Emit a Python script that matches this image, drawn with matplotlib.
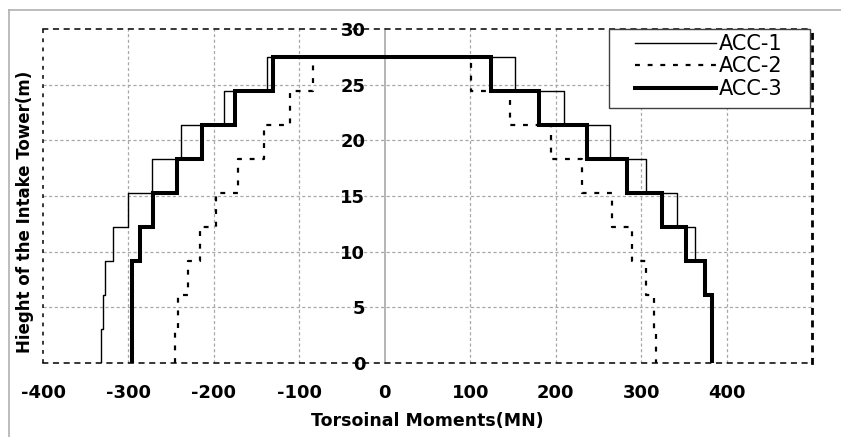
import numpy as np
import matplotlib.pyplot as plt
from matplotlib.patches import Rectangle
from matplotlib.lines import Line2D

plt.rcParams['axes.unicode_minus'] = False

# storey levels of the tower (m)
levels = [0, 3.05, 6.1, 9.15, 12.2, 15.25, 18.3, 21.35, 24.4, 27.45]

# torsional moment per storey, bottom to top (MN)
acc1_left = [-332, -330, -328, -318, -300, -273, -238, -188, -138]
acc1_right = [383, 383, 375, 363, 342, 306, 264, 210, 152]
acc2_left = [-246, -242, -230, -216, -198, -172, -141, -111, -84]
acc2_right = [318, 315, 306, 289, 266, 231, 194, 146, 101]
acc3_left = [-296, -296, -296, -287, -271, -243, -214, -175, -131]
acc3_right = [383, 383, 375, 353, 325, 283, 237, 181, 124]

xticks = [-400, -300, -200, -100, 0, 100, 200, 300, 400]
yticks = [0, 5, 10, 15, 20, 25, 30]


def envelope(left, right):
    # step outline: up the left side, across the top, down the right side
    x, y = [], []
    for i in range(len(left)):
        x += [left[i], left[i]]
        y += [levels[i], levels[i + 1]]
    for i in reversed(range(len(right))):
        x += [right[i], right[i]]
        y += [levels[i + 1], levels[i]]
    return x, y


fig = plt.figure(figsize=(8.41, 4.37), dpi=100)
ax = fig.add_axes([43 / 841, 74 / 437, 769 / 841, 334 / 437])

x1, y1 = envelope(acc1_left, acc1_right)
x2, y2 = envelope(acc2_left, acc2_right)
x3, y3 = envelope(acc3_left, acc3_right)
l1, = ax.plot(x1, y1, color='black', lw=1.0, zorder=3, label='ACC-1')
l2, = ax.plot(x2, y2, color='black', lw=1.6, dashes=(2.2, 3.5), zorder=3, label='ACC-2')
l3, = ax.plot(x3, y3, color='black', lw=2.9, zorder=4, label='ACC-3',
              solid_joinstyle='miter')

ax.set_xlim(-400, 500)
ax.set_ylim(0, 30)
ax.set_xticks(xticks)
ax.set_yticks(yticks)

# grid
gcol = '#a8a8a8'
for xv in xticks[1:] + [500]:
    if xv != 0:
        ax.axvline(xv, color=gcol, lw=0.9, dashes=(2.5, 2), zorder=1)
for yv in yticks[:-1]:
    ax.axhline(yv, color=gcol, lw=0.9, dashes=(2.5, 2), zorder=1)

# y axis through zero, borders dotted
ax.spines['left'].set_position(('data', 0))
ax.spines['left'].set_color(gcol)
ax.spines['left'].set_linewidth(1.2)
ax.spines['left'].set_zorder(2)
for side in ['top', 'bottom']:
    ax.spines[side].set_color('black')
    ax.spines[side].set_linewidth(1.1)
    ax.spines[side].set_linestyle((0, (3, 4)))
ax.spines['right'].set_color('black')
ax.spines['right'].set_linewidth(2.0)
ax.spines['right'].set_linestyle((0, (1.5, 3)))
ax.axvline(-400, color='black', lw=1.1, dashes=(2.5, 3.5), clip_on=False, zorder=2)

ax.tick_params(axis='both', which='both', length=0)
ax.tick_params(axis='x', pad=15)
ax.tick_params(axis='y', pad=14)
for lab in ax.get_xticklabels() + ax.get_yticklabels():
    lab.set_fontsize(13)
    lab.set_fontweight('bold')

ax.set_xlabel('Torsoinal Moments(MN)', fontsize=12.5, fontweight='bold', labelpad=7)
fig.text(25 / 841, 1 - 212 / 437, 'Hieght of the Intake Tower(m)', rotation=90,
         ha='center', va='center', fontsize=12, fontweight='bold')

# legend box
ax.add_patch(Rectangle((566 / 769, 255 / 334), 201 / 769, 79 / 334, transform=ax.transAxes,
                       facecolor='white', edgecolor='#404040', lw=1.0, zorder=5, clip_on=False))
leg = ax.legend(handles=[l1, l2, l3], loc='upper left', frameon=False,
                bbox_to_anchor=(592 / 769, 1 - 5 / 334), borderaxespad=0, borderpad=0,
                fontsize=15, handlelength=3.9, handletextpad=0.1, labelspacing=0.12)
leg.set_zorder(6)

# outer chart frame
fig.add_artist(Line2D([9 / 841, 9 / 841], [0, 1 - 10 / 437], color='#b0b0b0', lw=1.2))
fig.add_artist(Line2D([9 / 841, 1], [1 - 10 / 437, 1 - 10 / 437], color='#b0b0b0', lw=1.2))

fig.savefig('out.png', dpi=100)
